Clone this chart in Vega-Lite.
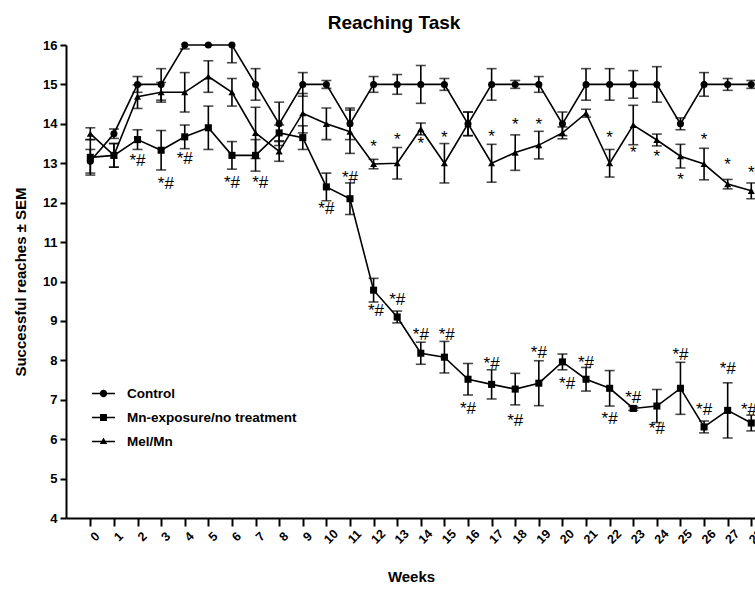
{
  "$schema": "https://vega.github.io/schema/vega-lite/v6.json",
  "autosize": "none",
  "width": 690,
  "height": 473,
  "padding": {"left": 66, "top": 45, "right": 0, "bottom": 72},
  "background": "white",
  "config": {
    "view": {"stroke": null},
    "font": "Liberation Sans"
  },
  "title": {
    "text": "Reaching Task",
    "fontSize": 19,
    "fontWeight": "bold",
    "font": "Liberation Sans",
    "color": "black",
    "anchor": "middle",
    "dx": -17,
    "offset": 6
  },
  "datasets": {
    "series": [
      {"week": 0, "group": "Control", "mean": 13.05, "sem": 0.3},
      {"week": 1, "group": "Control", "mean": 13.75, "sem": 0.12},
      {"week": 2, "group": "Control", "mean": 15.0, "sem": 0.2},
      {"week": 3, "group": "Control", "mean": 15.0, "sem": 0.4},
      {"week": 4, "group": "Control", "mean": 16.0, "sem": 0.1},
      {"week": 5, "group": "Control", "mean": 16.0, "sem": 0.0},
      {"week": 6, "group": "Control", "mean": 16.0, "sem": 0.45},
      {"week": 7, "group": "Control", "mean": 15.0, "sem": 0.4},
      {"week": 8, "group": "Control", "mean": 14.0, "sem": 0.55},
      {"week": 9, "group": "Control", "mean": 15.0, "sem": 0.3},
      {"week": 10, "group": "Control", "mean": 15.0, "sem": 0.1},
      {"week": 11, "group": "Control", "mean": 14.0, "sem": 0.4},
      {"week": 12, "group": "Control", "mean": 15.0, "sem": 0.2},
      {"week": 13, "group": "Control", "mean": 15.0, "sem": 0.25},
      {"week": 14, "group": "Control", "mean": 15.0, "sem": 0.48},
      {"week": 15, "group": "Control", "mean": 15.0, "sem": 0.15},
      {"week": 16, "group": "Control", "mean": 14.0, "sem": 0.3},
      {"week": 17, "group": "Control", "mean": 15.0, "sem": 0.4},
      {"week": 18, "group": "Control", "mean": 15.0, "sem": 0.1},
      {"week": 19, "group": "Control", "mean": 15.0, "sem": 0.2},
      {"week": 20, "group": "Control", "mean": 14.0, "sem": 0.3},
      {"week": 21, "group": "Control", "mean": 15.0, "sem": 0.4},
      {"week": 22, "group": "Control", "mean": 15.0, "sem": 0.4},
      {"week": 23, "group": "Control", "mean": 15.0, "sem": 0.35},
      {"week": 24, "group": "Control", "mean": 15.0, "sem": 0.45},
      {"week": 25, "group": "Control", "mean": 14.0, "sem": 0.15},
      {"week": 26, "group": "Control", "mean": 15.0, "sem": 0.3},
      {"week": 27, "group": "Control", "mean": 15.0, "sem": 0.15},
      {"week": 28, "group": "Control", "mean": 15.0, "sem": 0.1},
      {"week": 0, "group": "Mn-exposure/no treatment", "mean": 13.15, "sem": 0.45},
      {"week": 1, "group": "Mn-exposure/no treatment", "mean": 13.2, "sem": 0.3},
      {"week": 2, "group": "Mn-exposure/no treatment", "mean": 13.6, "sem": 0.25},
      {"week": 3, "group": "Mn-exposure/no treatment", "mean": 13.33, "sem": 0.5},
      {"week": 4, "group": "Mn-exposure/no treatment", "mean": 13.67, "sem": 0.3},
      {"week": 5, "group": "Mn-exposure/no treatment", "mean": 13.9, "sem": 0.55},
      {"week": 6, "group": "Mn-exposure/no treatment", "mean": 13.2, "sem": 0.35},
      {"week": 7, "group": "Mn-exposure/no treatment", "mean": 13.2, "sem": 0.4},
      {"week": 8, "group": "Mn-exposure/no treatment", "mean": 13.77, "sem": 0.2},
      {"week": 9, "group": "Mn-exposure/no treatment", "mean": 13.65, "sem": 0.3},
      {"week": 10, "group": "Mn-exposure/no treatment", "mean": 12.4, "sem": 0.35},
      {"week": 11, "group": "Mn-exposure/no treatment", "mean": 12.1, "sem": 0.4},
      {"week": 12, "group": "Mn-exposure/no treatment", "mean": 9.78, "sem": 0.3},
      {"week": 13, "group": "Mn-exposure/no treatment", "mean": 9.1, "sem": 0.15},
      {"week": 14, "group": "Mn-exposure/no treatment", "mean": 8.18, "sem": 0.28},
      {"week": 15, "group": "Mn-exposure/no treatment", "mean": 8.08, "sem": 0.4},
      {"week": 16, "group": "Mn-exposure/no treatment", "mean": 7.52, "sem": 0.4},
      {"week": 17, "group": "Mn-exposure/no treatment", "mean": 7.39, "sem": 0.37},
      {"week": 18, "group": "Mn-exposure/no treatment", "mean": 7.27, "sem": 0.4},
      {"week": 19, "group": "Mn-exposure/no treatment", "mean": 7.42, "sem": 0.57},
      {"week": 20, "group": "Mn-exposure/no treatment", "mean": 7.96, "sem": 0.2},
      {"week": 21, "group": "Mn-exposure/no treatment", "mean": 7.52, "sem": 0.3},
      {"week": 22, "group": "Mn-exposure/no treatment", "mean": 7.29, "sem": 0.45},
      {"week": 23, "group": "Mn-exposure/no treatment", "mean": 6.78, "sem": 0.05},
      {"week": 24, "group": "Mn-exposure/no treatment", "mean": 6.84, "sem": 0.42},
      {"week": 25, "group": "Mn-exposure/no treatment", "mean": 7.29, "sem": 0.66},
      {"week": 26, "group": "Mn-exposure/no treatment", "mean": 6.31, "sem": 0.15},
      {"week": 27, "group": "Mn-exposure/no treatment", "mean": 6.73, "sem": 0.7},
      {"week": 28, "group": "Mn-exposure/no treatment", "mean": 6.41, "sem": 0.2},
      {"week": 0, "group": "Mel/Mn", "mean": 13.75, "sem": 0.15},
      {"week": 1, "group": "Mel/Mn", "mean": 13.2, "sem": 0.3},
      {"week": 2, "group": "Mel/Mn", "mean": 14.69, "sem": 0.3},
      {"week": 3, "group": "Mel/Mn", "mean": 14.8, "sem": 0.25},
      {"week": 4, "group": "Mel/Mn", "mean": 14.8, "sem": 0.5},
      {"week": 5, "group": "Mel/Mn", "mean": 15.2, "sem": 0.4},
      {"week": 6, "group": "Mel/Mn", "mean": 14.8, "sem": 0.35},
      {"week": 7, "group": "Mel/Mn", "mean": 13.77, "sem": 0.65},
      {"week": 8, "group": "Mel/Mn", "mean": 13.3, "sem": 0.25},
      {"week": 9, "group": "Mel/Mn", "mean": 14.27, "sem": 0.5},
      {"week": 10, "group": "Mel/Mn", "mean": 14.0, "sem": 0.4},
      {"week": 11, "group": "Mel/Mn", "mean": 13.8, "sem": 0.55},
      {"week": 12, "group": "Mel/Mn", "mean": 12.98, "sem": 0.12},
      {"week": 13, "group": "Mel/Mn", "mean": 13.0, "sem": 0.4},
      {"week": 14, "group": "Mel/Mn", "mean": 13.87, "sem": 0.15},
      {"week": 15, "group": "Mel/Mn", "mean": 13.0, "sem": 0.5},
      {"week": 16, "group": "Mel/Mn", "mean": 14.0, "sem": 0.3},
      {"week": 17, "group": "Mel/Mn", "mean": 13.0, "sem": 0.48},
      {"week": 18, "group": "Mel/Mn", "mean": 13.27, "sem": 0.45},
      {"week": 19, "group": "Mel/Mn", "mean": 13.46, "sem": 0.35},
      {"week": 20, "group": "Mel/Mn", "mean": 13.77, "sem": 0.15},
      {"week": 21, "group": "Mel/Mn", "mean": 14.27, "sem": 0.1},
      {"week": 22, "group": "Mel/Mn", "mean": 13.0, "sem": 0.35},
      {"week": 23, "group": "Mel/Mn", "mean": 13.97, "sem": 0.5},
      {"week": 24, "group": "Mel/Mn", "mean": 13.59, "sem": 0.15},
      {"week": 25, "group": "Mel/Mn", "mean": 13.18, "sem": 0.3},
      {"week": 26, "group": "Mel/Mn", "mean": 12.98, "sem": 0.4},
      {"week": 27, "group": "Mel/Mn", "mean": 12.47, "sem": 0.12},
      {"week": 28, "group": "Mel/Mn", "mean": 12.3, "sem": 0.2}
    ],
    "notes": [
      {"week": 2, "y": 13.05, "label": "*#"},
      {"week": 3.2, "y": 12.47, "label": "*#"},
      {"week": 4, "y": 13.1, "label": "*#"},
      {"week": 6, "y": 12.5, "label": "*#"},
      {"week": 7.2, "y": 12.5, "label": "*#"},
      {"week": 10, "y": 11.83, "label": "*#"},
      {"week": 11, "y": 12.62, "label": "*#"},
      {"week": 12.1, "y": 9.24, "label": "*#"},
      {"week": 13, "y": 9.54, "label": "*#"},
      {"week": 14, "y": 8.65, "label": "*#"},
      {"week": 15.1, "y": 8.65, "label": "*#"},
      {"week": 16, "y": 6.77, "label": "*#"},
      {"week": 17, "y": 7.9, "label": "*#"},
      {"week": 18, "y": 6.45, "label": "*#"},
      {"week": 19, "y": 8.18, "label": "*#"},
      {"week": 20.2, "y": 7.39, "label": "*#"},
      {"week": 21, "y": 7.93, "label": "*#"},
      {"week": 22, "y": 6.5, "label": "*#"},
      {"week": 23, "y": 7.04, "label": "*#"},
      {"week": 24, "y": 6.25, "label": "*#"},
      {"week": 25, "y": 8.13, "label": "*#"},
      {"week": 26, "y": 6.73, "label": "*#"},
      {"week": 27, "y": 7.77, "label": "*#"},
      {"week": 27.9, "y": 6.75, "label": "*#"},
      {"week": 12, "y": 13.41, "label": "*"},
      {"week": 13, "y": 13.59, "label": "*"},
      {"week": 14, "y": 13.5, "label": "*"},
      {"week": 15, "y": 13.64, "label": "*"},
      {"week": 17, "y": 13.67, "label": "*"},
      {"week": 18, "y": 13.97, "label": "*"},
      {"week": 19, "y": 13.97, "label": "*"},
      {"week": 22, "y": 13.64, "label": "*"},
      {"week": 23, "y": 13.26, "label": "*"},
      {"week": 24, "y": 13.16, "label": "*"},
      {"week": 25, "y": 12.57, "label": "*"},
      {"week": 26, "y": 13.59, "label": "*"},
      {"week": 27, "y": 12.95, "label": "*"},
      {"week": 28, "y": 12.75, "label": "*"}
    ]
  },
  "data": {"name": "series"},
  "encoding": {
    "x": {
      "field": "week",
      "type": "quantitative",
      "scale": {"domain": [-1.03, 28.2], "nice": false, "zero": false},
      "axis": {
        "values": [0,1,2,3,4,5,6,7,8,9,10,11,12,13,14,15,16,17,18,19,20,21,22,23,24,25,26,27,28],
        "grid": false,
        "domainColor": "black",
        "domainWidth": 2,
        "tickColor": "black",
        "tickWidth": 2,
        "tickSize": 8,
        "labelAngle": -45,
        "labelAlign": "center",
        "labelBaseline": "top",
        "labelPadding": 6,
        "labelFontSize": 12.5,
        "labelFontWeight": "bold",
        "labelColor": "black",
        "labelFont": "Liberation Sans",
        "labelOverlap": false,
        "title": "Weeks",
        "titleFontSize": 15,
        "titleFontWeight": "bold",
        "titleColor": "black",
        "titleFont": "Liberation Sans",
        "titlePadding": 24
      }
    },
    "y": {
      "field": "mean",
      "type": "quantitative",
      "scale": {"domain": [4, 16], "nice": false, "zero": false},
      "axis": {
        "values": [4,5,6,7,8,9,10,11,12,13,14,15,16],
        "grid": false,
        "domainColor": "black",
        "domainWidth": 2,
        "tickColor": "black",
        "tickWidth": 2,
        "tickSize": 6,
        "labelFontSize": 13,
        "labelFontWeight": "bold",
        "labelColor": "black",
        "labelFont": "Liberation Sans",
        "labelPadding": 3,
        "labelOverlap": false,
        "title": "Successful reaches ± SEM",
        "titleFontSize": 15,
        "titleFontWeight": "bold",
        "titleColor": "black",
        "titleFont": "Liberation Sans",
        "titlePadding": 14
      }
    }
  },
  "layer": [
    {
      "mark": {"type": "errorbar", "clip": true, "ticks": {"size": 10, "thickness": 1.6, "color": "black", "clip": true}, "thickness": 1.6, "color": "black"},
      "encoding": {
        "yError": {"field": "sem"},
        "detail": {"field": "group", "type": "nominal"}
      }
    },
    {
      "mark": {"type": "line", "color": "black", "strokeWidth": 1.6},
      "encoding": {
        "detail": {"field": "group", "type": "nominal"}
      }
    },
    {
      "mark": {"type": "point", "filled": true, "color": "black", "opacity": 1, "size": 50},
      "encoding": {
        "shape": {
          "field": "group",
          "type": "nominal",
          "scale": {"domain": ["Control", "Mn-exposure/no treatment", "Mel/Mn"], "range": ["circle", "square", "triangle-up"]},
          "legend": null
        }
      }
    },
    {
      "mark": {"type": "point", "filled": true, "color": "black", "opacity": 0, "size": 50},
      "encoding": {
        "shape": {
          "field": "group",
          "type": "nominal",
          "scale": {
            "domain": ["Control", "Mn-exposure/no treatment", "Mel/Mn"],
            "range": [
              "M-1,-0.075L1,-0.075L1,0.075L-1,0.075ZM0.32,0A0.32,0.32 0 1,1 -0.32,0A0.32,0.32 0 1,1 0.32,0Z",
              "M-1,-0.075L1,-0.075L1,0.075L-1,0.075ZM-0.3,-0.3L0.3,-0.3L0.3,0.3L-0.3,0.3Z",
              "M-1,-0.075L1,-0.075L1,0.075L-1,0.075ZM0,-0.34L0.32,0.22L-0.32,0.22Z"
            ]
          },
          "legend": {
            "title": null,
            "orient": "none",
            "legendX": 26,
            "legendY": 337,
            "padding": 0,
            "symbolSize": 529,
            "symbolOpacity": 1,
            "symbolFillColor": "black",
            "symbolStrokeColor": "black",
            "symbolStrokeWidth": 0,
            "labelFontSize": 13.5,
            "labelFontWeight": "bold",
            "labelColor": "black",
            "labelFont": "Liberation Sans",
            "labelOffset": 12,
            "rowPadding": 6,
            "labelLimit": 300
          }
        }
      }
    },
    {
      "data": {"name": "notes"},
      "mark": {"type": "text", "fontSize": 17, "color": "black", "font": "Liberation Sans", "align": "center", "baseline": "middle"},
      "encoding": {
        "y": {"field": "y", "type": "quantitative"},
        "text": {"field": "label", "type": "nominal"}
      }
    }
  ],
  "resolve": {"scale": {"shape": "independent"}}
}
